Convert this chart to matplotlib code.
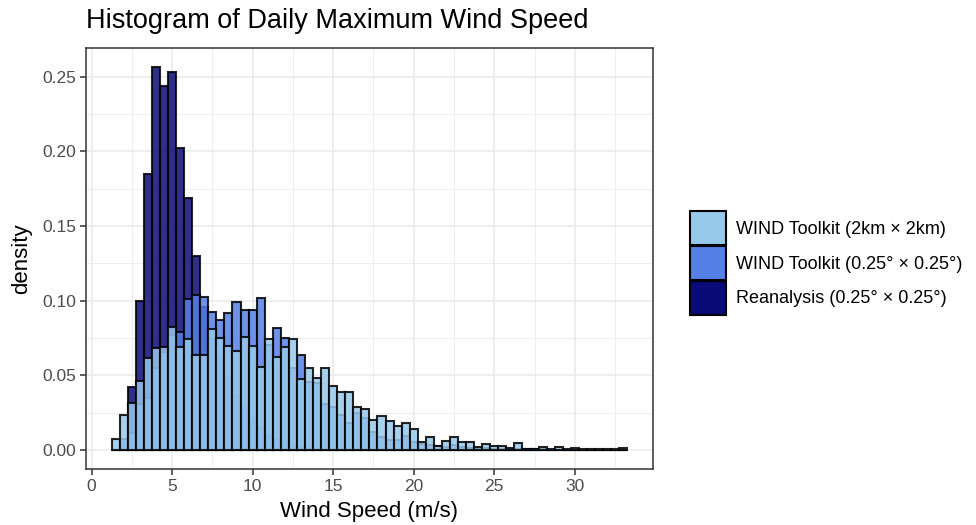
import numpy as np
import matplotlib
matplotlib.use("Agg")
import matplotlib.pyplot as plt
from matplotlib.patches import Patch

plt.rcParams['font.family'] = ['Liberation Sans', 'DejaVu Sans']

# histogram bins: width 0.5 m/s, first bin centred at 1.5
bin_width = 0.5
bin_centers = np.arange(1.5, 33.25, bin_width)

# densities, one value per bin
reanalysis = [0, 0.003, 0.042, 0.0996, 0.185, 0.2567, 0.244, 0.253, 0.202, 0.169,
              0.130, 0.096, 0.075, 0.060, 0.048, 0.037, 0.028, 0.020, 0.015, 0.010,
              0.007, 0.005, 0.003, 0.002, 0.001, 0, 0, 0, 0, 0,
              0, 0, 0, 0, 0, 0, 0, 0, 0, 0,
              0, 0, 0, 0, 0, 0, 0, 0, 0, 0,
              0, 0, 0, 0, 0, 0, 0, 0, 0, 0,
              0, 0, 0, 0]

wtk_coarse = [0, 0.007, 0.011, 0.031, 0.0345, 0.0546, 0.0657, 0.077, 0.0787, 0.101,
              0.1036, 0.1025, 0.0925, 0.0873, 0.092, 0.099, 0.094, 0.094, 0.102, 0.070,
              0.0818, 0.0753, 0.0546, 0.0635, 0.0457, 0.045, 0.0307, 0.029, 0.0234, 0.0178,
              0.0245, 0.0212, 0.0123, 0.0089, 0.0067, 0.0067, 0.0094, 0.0056, 0.004, 0.0033,
              0.0029, 0.002, 0.003, 0.002, 0.0015, 0.001, 0.001, 0.0008, 0.0008, 0.0005,
              0.0005, 0.0003, 0.0003, 0.0003, 0.0002, 0.0002, 0.0002, 0.0002, 0, 0,
              0, 0, 0, 0]

wtk_2km = [0.0074, 0.0234, 0.0316, 0.046, 0.0617, 0.0686, 0.069, 0.0824, 0.069, 0.074,
           0.0637, 0.0635, 0.081, 0.0753, 0.0697, 0.0664, 0.0758, 0.0697, 0.0553, 0.0746,
           0.0624, 0.069, 0.0742, 0.0475, 0.0546, 0.0479, 0.0546, 0.0428, 0.039, 0.039,
           0.029, 0.0272, 0.020, 0.0227, 0.0194, 0.0163, 0.0178, 0.0138, 0.0056, 0.0089,
           0.0025, 0.0062, 0.0085, 0.0056, 0.0056, 0.0022, 0.0038, 0.0027, 0.0025, 0.001,
           0.0045, 0.0009, 0.0004, 0.002, 0.0007, 0.002, 0.0009, 0.0013, 0.0005, 0.0005,
           0.0004, 0.0004, 0.0005, 0.0011]

labels = ["WIND Toolkit (2km \u00d7 2km)",
          "WIND Toolkit (0.25\u00b0 \u00d7 0.25\u00b0)",
          "Reanalysis (0.25\u00b0 \u00d7 0.25\u00b0)"]
colors = ["#97C9EB", "#5580E6", "#0A0A78"]

fig = plt.figure(figsize=(9.76, 5.25), dpi=100)
ax = fig.add_axes([0.088, 0.1067, 0.581, 0.8024])

# drawn back to front: reanalysis, coarse toolkit, then 2km on top
for vals, col in zip([reanalysis, wtk_coarse, wtk_2km], colors[::-1]):
    ax.bar(bin_centers, vals, width=bin_width, color=col, alpha=0.85,
           edgecolor="black", linewidth=1.5, zorder=3)

ax.set_xlim(-0.35, 34.85)
ax.set_ylim(-0.0128, 0.2695)
ax.set_xticks(np.arange(0, 31, 5))
ax.set_yticks(np.arange(0, 0.26, 0.05))
ax.set_yticklabels([f"{v:.2f}" for v in np.arange(0, 0.26, 0.05)])
ax.set_xticks(np.arange(2.5, 34, 5), minor=True)
ax.set_yticks(np.arange(0.025, 0.27, 0.05), minor=True)
ax.grid(which="major", color="#EBEBEB", linewidth=1.2, zorder=0)
ax.grid(which="minor", color="#EBEBEB", linewidth=0.6, zorder=0)
ax.tick_params(which="minor", length=0)
ax.tick_params(which="major", length=4.5, width=1.1, color="#333333",
               labelsize=12.5, labelcolor="#4D4D4D", pad=2.5)
for s in ax.spines.values():
    s.set_color("#333333")
    s.set_linewidth(1.1)
ax.set_axisbelow(True)

ax.set_xlabel("Wind Speed (m/s)", fontsize=16, labelpad=5)
ax.set_ylabel("density", fontsize=16, labelpad=7)
fig.text(0.088, 0.96, "Histogram of Daily Maximum Wind Speed", fontsize=19.5,
         ha="left", va="center")

handles = [Patch(facecolor=c, edgecolor="black", linewidth=1.5) for c in colors]
fig.legend(handles, labels, loc="center left", bbox_to_anchor=(0.7, 0.499),
           frameon=False, fontsize=13, handlelength=1.95, handleheight=2.5,
           handletextpad=0.6, labelspacing=0.05, borderaxespad=0)

fig.savefig("out.png", dpi=100)
